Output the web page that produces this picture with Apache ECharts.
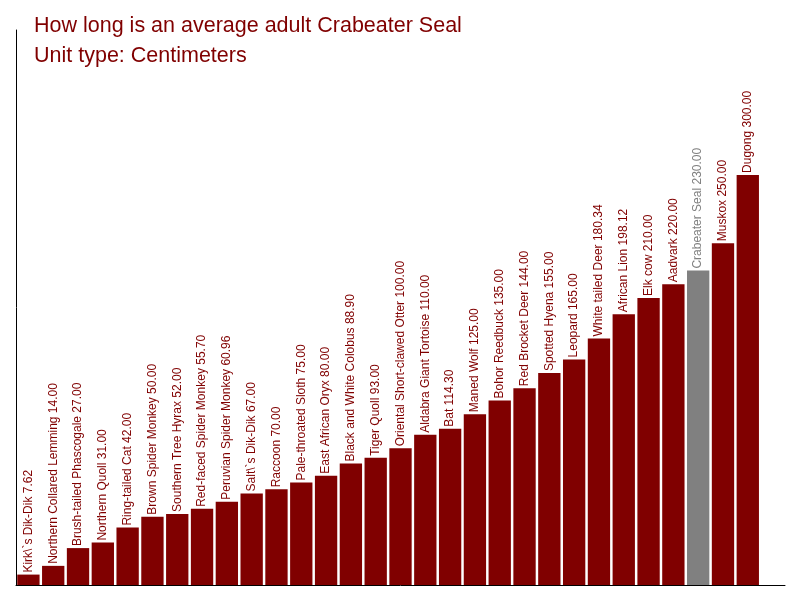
<!DOCTYPE html>
<html>
<head>
<meta charset="utf-8">
<script src="https://cdn.jsdelivr.net/npm/echarts@6/dist/echarts.min.js"></script>
<style>html,body{margin:0;padding:0;background:#fff}#main{width:800px;height:600px}</style>
</head>
<body>
<div id="main"></div>
<script>
// 动物名称
let animals = ['Kirk\\`s Dik-Dik', 'Northern Collared Lemming', 'Brush-tailed Phascogale', 'Northern Quoll',
    'Ring-tailed Cat', 'Brown Spider Monkey', 'Southern Tree Hyrax', 'Red-faced Spider Monkey',
    'Peruvian Spider Monkey', 'Salt\\`s Dik-Dik', 'Raccoon', 'Pale-throated Sloth', 'East African Oryx',
    'Black and White Colobus', 'Tiger Quoll', 'Oriental Short-clawed Otter', 'Aldabra Giant Tortoise',
    'Bat', 'Maned Wolf', 'Bohor Reedbuck', 'Red Brocket Deer', 'Spotted Hyena', 'Leopard',
    'White tailed Deer', 'African Lion', 'Elk cow', 'Aadvark', 'Crabeater Seal', 'Muskox', 'Dugong']
// 长度(厘米)
let lengths = [7.62, 14, 27, 31, 42, 50, 52, 55.7, 60.96, 67, 70, 75, 80, 88.9, 93, 100, 110, 114.3,
    125, 135, 144, 155, 165, 180.34, 198.12, 210, 220, 230, 250, 300]
let highlight = 'Crabeater Seal'

let ele = echarts.init(document.getElementById('main'))
const option = {
    animation: false,
    title: [
        { text: 'How long is an average adult Crabeater Seal', left: 29, top: 10,
          textStyle: { color: '#800000', fontSize: 21.5, fontWeight: 'normal', fontFamily: 'Liberation Sans' } },
        { text: 'Unit type: Centimeters', left: 29, top: 40,
          textStyle: { color: '#800000', fontSize: 21.5, fontWeight: 'normal', fontFamily: 'Liberation Sans' } }
    ],
    grid: { left: 16, right: 15, top: 30, bottom: 15 },
    xAxis: {
        type: 'category',
        data: animals.concat(['']),
        axisLine: { lineStyle: { color: '#000' } },
        axisTick: { show: false },
        axisLabel: { show: false }
    },
    yAxis: {
        type: 'value',
        min: 0,
        max: 406,
        axisLine: { show: true, lineStyle: { color: '#000' } },
        axisTick: { show: false },
        axisLabel: { show: false },
        splitLine: { show: false }
    },
    series: [{
        type: 'bar',
        barCategoryGap: '10%',
        data: lengths.map((v, i) => {
            let c = animals[i] === highlight ? '#808080' : '#800000'
            return {
                value: v,
                itemStyle: { color: c },
                label: { color: c }
            }
        }),
        label: {
            show: true,
            position: 'top',
            rotate: 90,
            align: 'left',
            verticalAlign: 'middle',
            distance: 2,
            fontSize: 12,
            fontFamily: 'Liberation Sans',
            formatter: p => p.name + ' ' + p.value.toFixed(2)
        }
    }]
}
ele.setOption(option)
</script>
</body>
</html>
